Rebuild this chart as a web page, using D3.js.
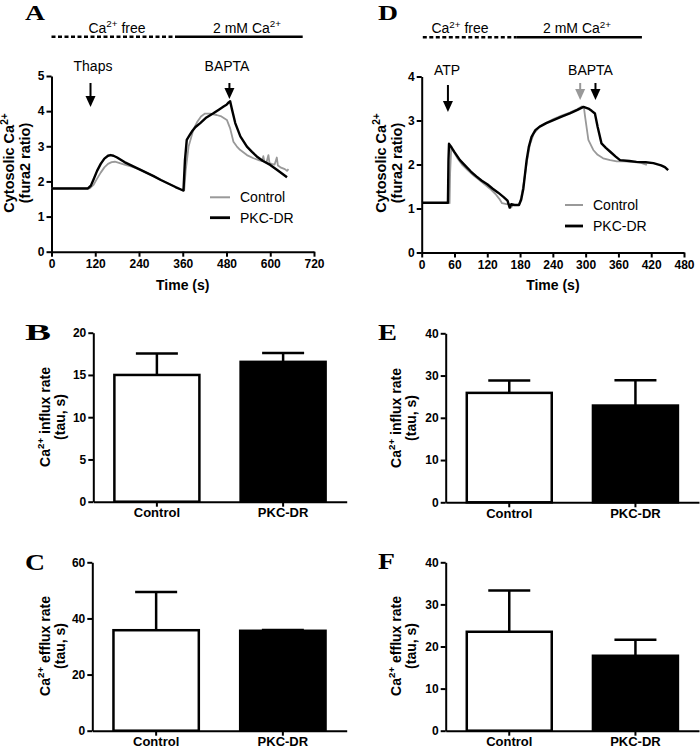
<!DOCTYPE html>
<html><head><meta charset="utf-8">
<script src="https://cdn.jsdelivr.net/npm/d3@7"></script>
<style>
body{margin:0;background:#fff}
svg{display:block}
text{font-family:"Liberation Sans",Arial,sans-serif;fill:#000}
</style>
</head><body>
<svg id="c" width="700" height="749"></svg>
<script>
// ---------------- DATA ----------------
// Panel A (thapsigargin) traces: time (s) and fura2 ratio
const aCtrlT = [0,105,115,125,135,145,155,165,174,185,200,220,240,260,280,300,320,340,355,364,368,376,389,400,410,421,435,453,466,481,490,499,508,517,536,554,570,578,581,584,590,595,598,604,612,618,621,628,640,646,650];
const aCtrlV = [1.8,1.8,1.9,2.08,2.25,2.4,2.5,2.55,2.56,2.53,2.48,2.42,2.35,2.25,2.15,2.04,1.94,1.84,1.77,1.75,2.3,2.99,3.47,3.7,3.85,3.93,3.93,3.89,3.85,3.75,3.51,3.13,3.0,2.9,2.75,2.66,2.6,2.58,2.72,2.56,2.55,2.75,2.52,2.5,2.48,2.68,2.45,2.4,2.35,2.3,2.35];
const aPkcT = [0,100,108,115,125,135,145,155,162,170,180,200,220,240,260,280,300,320,340,355,362,366,371,378,385,395,408,425,444,460,472,480,486,490,495,504,518,536,550,563,580,600,620,646];
const aPkcV = [1.8,1.8,1.88,2.05,2.3,2.5,2.65,2.73,2.75,2.73,2.68,2.55,2.45,2.35,2.25,2.15,2.04,1.94,1.84,1.77,1.74,2.6,3.18,3.3,3.42,3.55,3.66,3.82,3.94,4.05,4.13,4.18,4.25,4.28,4.05,3.66,3.28,2.99,2.84,2.71,2.58,2.47,2.32,2.12];
// Panel D (ATP) traces
const dCtrlT = [0,51,52,54,58,65,75,85,95,105,115,125,135,142,147,155,160,163,168,178,182,187,193,198,205,215,228,241,256,271,285,293,297,299,305,314,322,332,345,357,370,385,400,412];
const dCtrlV = [1.12,1.12,1.8,2.38,2.3,2.15,1.98,1.86,1.75,1.65,1.55,1.45,1.33,1.22,1.12,1.1,1.1,1.02,1.08,1.08,1.25,1.6,2.1,2.45,2.7,2.85,2.95,3.03,3.11,3.18,3.26,3.32,3.28,3.09,2.56,2.33,2.22,2.14,2.1,2.07,2.07,2.06,2.04,1.99];
const dPkcT = [0,48,49,50,55,60,70,80,90,100,110,120,130,140,150,157,161,164,170,178,182,186,192,196,201,208,216,228,241,256,271,285,296,305,311,317,322,329,337,345,355,363,380,393,410,424,438,445,451];
const dPkcV = [1.13,1.13,2.1,2.47,2.38,2.28,2.1,1.97,1.84,1.73,1.63,1.55,1.45,1.36,1.26,1.18,1.02,1.1,1.08,1.08,1.2,1.45,2.1,2.4,2.63,2.78,2.86,2.94,3.01,3.09,3.16,3.24,3.31,3.27,3.22,3.16,2.85,2.48,2.38,2.29,2.18,2.1,2.08,2.06,2.05,2.03,1.98,1.94,1.87];
// Tick values
const aXTicks = [0,120,240,360,480,600,720];
const aYTicks = [0,1,2,3,4,5];
const dXTicks = [0,60,120,180,240,300,360,420,480];
const dYTicks = [0,1,2,3,4];
// Stimulus arrows (time in s)
const aArrows = [{label:"Thaps", t:107, color:"#000"}, {label:"BAPTA", t:488, color:"#000"}];
const dArrows = [{label:"ATP", t:48, color:"#000"}, {label:"", t:290, color:"#999"}, {label:"", t:318, color:"#000"}];
// Bar charts
const categories = ["Control","PKC-DR"];
const bMean = [15.0, 16.55], bErr = [2.55, 1.05];
const cMean = [35.8, 35.6],  cErr = [13.6, 0.3];
const eMean = [25.9, 22.9],  eErr = [2.9, 6.0];
const fMean = [23.5, 17.8],  fErr = [9.8, 3.8];
const bTicks = [0,5,10,15,20];
const cTicks = [0,20,40,60];
const eTicks = [0,10,20,30,40];
const fTicks = [0,10,20,30,40];
const seriesNames = ["Control","PKC-DR"];
const seriesColors = ["#999999","#000000"];

// ---------------- HELPERS ----------------
const svg = d3.select("#c");
const fmt = d3.format("~g");

function rich(sel, parts, fs) {
  let up = false;
  parts.forEach(p => {
    const ts = sel.append("tspan").text(p.t);
    if (p.sup) { ts.attr("dy", -fs*0.4).attr("font-size", fs*0.7); up = true; }
    else if (up) { ts.attr("dy", fs*0.4); up = false; }
  });
}

function panelLetter(txt, x, y, size, w) {
  svg.append("text").attr("x", x).attr("y", y)
    .style("font-family", "'Liberation Serif','Times New Roman',serif")
    .attr("font-weight", "bold").attr("font-size", size)
    .attr("textLength", w).attr("lengthAdjust", "spacingAndGlyphs")
    .text(txt);
}

function styleAxis(g) {
  g.selectAll("path.domain").attr("stroke", "#000").attr("stroke-width", 2);
  g.selectAll(".tick line").attr("stroke", "#000").attr("stroke-width", 2);
  g.selectAll(".tick text").attr("font-size", 12).attr("font-weight", "bold")
    .style("font-family", "'Liberation Sans',Arial,sans-serif").attr("fill", "#000");
}

function linePanel(c) {
  const x = d3.scaleLinear().domain(c.xDomain).range(c.xRange);
  const y = d3.scaleLinear().domain(c.yDomain).range(c.yRange);
  // condition bar
  svg.append("line").attr("x1", x(c.freeSeg[0])).attr("x2", x(c.freeSeg[1]))
    .attr("y1", c.barY).attr("y2", c.barY).attr("stroke", "#000").attr("stroke-width", 2.5)
    .attr("stroke-dasharray", "4,2.5");
  svg.append("line").attr("x1", x(c.caSeg[0])).attr("x2", x(c.caSeg[1]))
    .attr("y1", c.barY).attr("y2", c.barY).attr("stroke", "#000").attr("stroke-width", 2.5);
  const t1 = svg.append("text").attr("x", c.freeLabelX).attr("y", c.barY - 4).attr("text-anchor", "middle").attr("font-size", 14);
  rich(t1, [{t:"Ca"},{t:"2+",sup:true},{t:" free"}], 14);
  const t2 = svg.append("text").attr("x", c.caLabelX).attr("y", c.barY - 4).attr("text-anchor", "middle").attr("font-size", 14);
  rich(t2, [{t:"2 mM Ca"},{t:"2+",sup:true}], 14);

  // axes
  const gx = svg.append("g").attr("transform", `translate(0,${c.yRange[0]})`)
    .call(d3.axisBottom(x).tickValues(c.xTicks).tickFormat(fmt).tickSize(5).tickSizeOuter(0).tickPadding(3));
  styleAxis(gx);
  const gy = svg.append("g").attr("transform", `translate(${c.xRange[0]},0)`)
    .call(d3.axisLeft(y).tickValues(c.yTicks).tickFormat(fmt).tickSize(5).tickSizeOuter(0).tickPadding(2));
  styleAxis(gy);

  // traces
  const line = d3.line().x(d => x(d[0])).y(d => y(d[1]));
  c.series.forEach((s, i) => {
    const pts = s.t.map((t, k) => [t, s.v[k]]);
    svg.append("path").attr("d", line(pts)).attr("fill", "none")
      .attr("stroke", seriesColors[i]).attr("stroke-width", i === 0 ? 1.8 : 2.4)
      .attr("stroke-linejoin", "round");
  });

  // arrows
  c.arrows.forEach(a => {
    const ax = x(a.t);
    svg.append("line").attr("x1", ax).attr("x2", ax).attr("y1", a.y0).attr("y2", a.y1 - 8)
      .attr("stroke", a.color).attr("stroke-width", 2);
    svg.append("path").attr("d", `M${ax-5},${a.y1-11}L${ax+5},${a.y1-11}L${ax},${a.y1}Z`).attr("fill", a.color);
    if (a.label) svg.append("text").attr("x", a.lx != null ? a.lx : ax).attr("y", a.ly)
      .attr("text-anchor", "middle").attr("font-size", 14).text(a.label);
  });

  // legend
  seriesNames.forEach((n, i) => {
    const ly = c.legY[i];
    svg.append("line").attr("x1", c.legX).attr("x2", c.legX + c.legW).attr("y1", ly).attr("y2", ly)
      .attr("stroke", seriesColors[i]).attr("stroke-width", i === 0 ? 2 : 2.8);
    svg.append("text").attr("x", c.legX + c.legW + 10).attr("y", ly + 5).attr("font-size", 14).text(n);
  });

  // axis titles
  svg.append("text").attr("x", (c.xRange[0] + c.xRange[1]) / 2).attr("y", c.xTitleY)
    .attr("text-anchor", "middle").attr("font-size", 14).attr("font-weight", "bold").text("Time (s)");
  const yl = svg.append("text").attr("transform", `translate(${c.yTitleX[0]},${c.yTitleY}) rotate(-90)`)
    .attr("text-anchor", "middle").attr("font-size", 14.5).attr("font-weight", "bold");
  rich(yl, [{t:"Cytosolic Ca"},{t:"2+",sup:true}], 14.5);
  svg.append("text").attr("transform", `translate(${c.yTitleX[1]},${c.yTitleY}) rotate(-90)`)
    .attr("text-anchor", "middle").attr("font-size", 14.5).attr("font-weight", "bold").text("(fura2 ratio)");
}

function barPanel(c) {
  const x = d3.scaleBand().domain(categories).range([c.axisX, c.axisXEnd]).paddingInner(0.3265).paddingOuter(0.167);
  const y = d3.scaleLinear().domain([0, c.yMax]).range(c.yRange);
  const fills = ["#fff", "#000"];
  categories.forEach((cat, i) => {
    const cx = x(cat) + x.bandwidth() / 2;
    const top = y(c.mean[i] + c.err[i]);
    svg.append("line").attr("x1", cx).attr("x2", cx).attr("y1", y(c.mean[i])).attr("y2", top)
      .attr("stroke", "#000").attr("stroke-width", 2.5);
    svg.append("line").attr("x1", cx - 21).attr("x2", cx + 21).attr("y1", top).attr("y2", top)
      .attr("stroke", "#000").attr("stroke-width", 2.5);
    svg.append("rect").attr("x", x(cat)).attr("width", x.bandwidth())
      .attr("y", y(c.mean[i])).attr("height", y(0) - y(c.mean[i]))
      .attr("fill", fills[i]).attr("stroke", "#000").attr("stroke-width", 2.5);
  });
  const gx = svg.append("g").attr("transform", `translate(0,${c.yRange[0]})`)
    .call(d3.axisBottom(x).tickSize(5).tickSizeOuter(0).tickPadding(1.5));
  styleAxis(gx);
  gx.selectAll(".tick text").attr("font-size", 13);
  const gy = svg.append("g").attr("transform", `translate(${c.axisX},0)`)
    .call(d3.axisLeft(y).tickValues(c.ticks).tickFormat(fmt).tickSize(5).tickSizeOuter(0).tickPadding(2));
  styleAxis(gy);
  const l1 = svg.append("text").attr("transform", `translate(${c.labX[0]},${c.labY}) rotate(-90)`)
    .attr("text-anchor", "middle").attr("font-size", 14).attr("font-weight", "bold");
  rich(l1, [{t:"Ca"},{t:"2+",sup:true},{t:c.label}], 14);
  svg.append("text").attr("transform", `translate(${c.labX[1]},${c.labY}) rotate(-90)`)
    .attr("text-anchor", "middle").attr("font-size", 14).attr("font-weight", "bold").text("(tau, s)");
}

// ---------------- DRAW ----------------
panelLetter("A", 25, 19.5, 22, 20);
panelLetter("D", 378, 19.5, 22, 20);
panelLetter("B", 25, 340, 24, 26);
panelLetter("E", 378, 340, 24, 19);
panelLetter("C", 25, 570, 24, 20);
panelLetter("F", 378, 569, 24, 17);

linePanel({
  xDomain:[0,720], xRange:[51.5,314], yDomain:[0,5], yRange:[251.7,76],
  xTicks:aXTicks, yTicks:aYTicks,
  series:[{t:aCtrlT, v:aCtrlV},{t:aPkcT, v:aPkcV}],
  barY:36.7, freeSeg:[0,347], caSeg:[347,689], freeLabelX:117, caLabelX:247,
  arrows:[
    {t:aArrows[0].t, label:aArrows[0].label, color:aArrows[0].color, y0:83, y1:107, ly:71, lx:93},
    {t:aArrows[1].t, label:aArrows[1].label, color:aArrows[1].color, y0:83, y1:99, ly:71, lx:227}
  ],
  legX:210, legW:20, legY:[197.3,217.7],
  xTitleY:290, yTitleX:[14,29.5], yTitleY:163
});

linePanel({
  xDomain:[0,480], xRange:[421.7,684], yDomain:[0,4], yRange:[252.5,76.5],
  xTicks:dXTicks, yTicks:dYTicks,
  series:[{t:dCtrlT, v:dCtrlV},{t:dPkcT, v:dPkcV}],
  barY:37.3, freeSeg:[2,174], caSeg:[174,403], freeLabelX:460, caLabelX:577,
  arrows:[
    {t:dArrows[0].t, label:"ATP", color:dArrows[0].color, y0:85, y1:112, ly:75, lx:447},
    {t:dArrows[1].t, label:"", color:dArrows[1].color, y0:83, y1:100, ly:75},
    {t:dArrows[2].t, label:"", color:dArrows[2].color, y0:83, y1:100, ly:75}
  ],
  legX:565, legW:18, legY:[205,226],
  xTitleY:290, yTitleX:[386,401.5], yTitleY:163
});
svg.append("text").attr("x", 590.5).attr("y", 75).attr("text-anchor", "middle").attr("font-size", 14).text("BAPTA");

barPanel({mean:bMean, err:bErr, yMax:20, ticks:bTicks, axisX:93.3, axisXEnd:346.7, yRange:[501.7,332.7],
  label:" influx rate", labX:[50,65], labY:417});
barPanel({mean:eMean, err:eErr, yMax:40, ticks:eTicks, axisX:445.7, axisXEnd:699, yRange:[502.3,333.3],
  label:" influx rate", labX:[401,416], labY:418});
barPanel({mean:cMean, err:cErr, yMax:60, ticks:cTicks, axisX:92.3, axisXEnd:346.7, yRange:[730.7,562.3],
  label:" efflux rate", labX:[50,65], labY:646});
barPanel({mean:fMean, err:fErr, yMax:40, ticks:fTicks, axisX:445.7, axisXEnd:699, yRange:[730.7,562.3],
  label:" efflux rate", labX:[401,416], labY:646});
</script>
</body></html>
